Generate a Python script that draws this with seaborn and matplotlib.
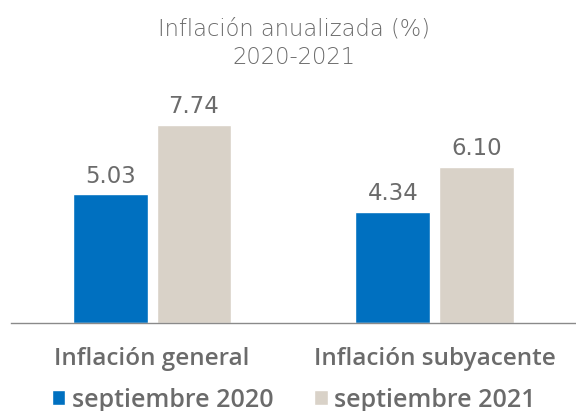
import matplotlib
matplotlib.use("Agg")
import matplotlib.pyplot as plt
import seaborn as sns
import pandas as pd

categories = ["Inflación general", "Inflación subyacente"]
series_names = ["septiembre 2020", "septiembre 2021"]
values_2020 = [5.03, 4.34]
values_2021 = [7.74, 6.10]
title_text = "Inflación anualizada (%)\n2020-2021"

df = pd.DataFrame({
    "cat": categories * 2,
    "serie": [series_names[0]] * 2 + [series_names[1]] * 2,
    "val": values_2020 + values_2021,
})

sns.set_theme(style="white")
plt.rcParams["font.family"] = ["Open Sans", "DejaVu Sans"]
gray = "#6b6b6b"
colors = ["#0070c0", "#d9d2c8"]

fig = plt.figure(figsize=(5.76, 4.11), dpi=100)
ax = fig.add_axes([10.7 / 576, (411 - 323) / 411, 1 - 10.7 / 576, (323 - 95) / 411])

sns.barplot(data=df, x="cat", y="val", hue="serie", palette=colors,
            width=0.592, gap=0.107, ax=ax, saturation=1, legend=True)

ax.set_xlim(-0.5, 1.5)
ax.set_ylim(0, 228 / 25.6)

for cont in ax.containers:
    ax.bar_label(cont, fmt="%.2f", padding=4.8, fontsize=16.4, color=gray,
                 family=["DejaVu Sans"])

for s in ["top", "right", "left"]:
    ax.spines[s].set_visible(False)
ax.spines["bottom"].set_color("#8a8a8a")
ax.spines["bottom"].set_linewidth(1.0)
ax.set_yticks([])
ax.set_xlabel("")
ax.set_ylabel("")
ax.tick_params(axis="x", length=0, pad=17, labelsize=17.5, labelcolor=gray)
for t in ax.get_xticklabels():
    t.set_fontweight("semibold")

fig.text(0.51, 1 - 43.5 / 411, title_text, ha="center", va="center",
         fontsize=16.3, color=gray, fontweight=200, family=["DejaVu Sans"],
         linespacing=1.28)

handles, labels = ax.get_legend_handles_labels()
leg = ax.legend(handles, labels, loc="center", bbox_to_anchor=(0.51, 11 / 411),
                bbox_transform=fig.transFigure, ncol=2, frameon=False,
                fontsize=18, labelcolor=gray, handlelength=0.55, handleheight=0.55,
                handletextpad=0.25, columnspacing=1.65, borderaxespad=0,
                borderpad=0)
for t in leg.get_texts():
    t.set_fontweight("semibold")

fig.savefig("out.png", dpi=100)
